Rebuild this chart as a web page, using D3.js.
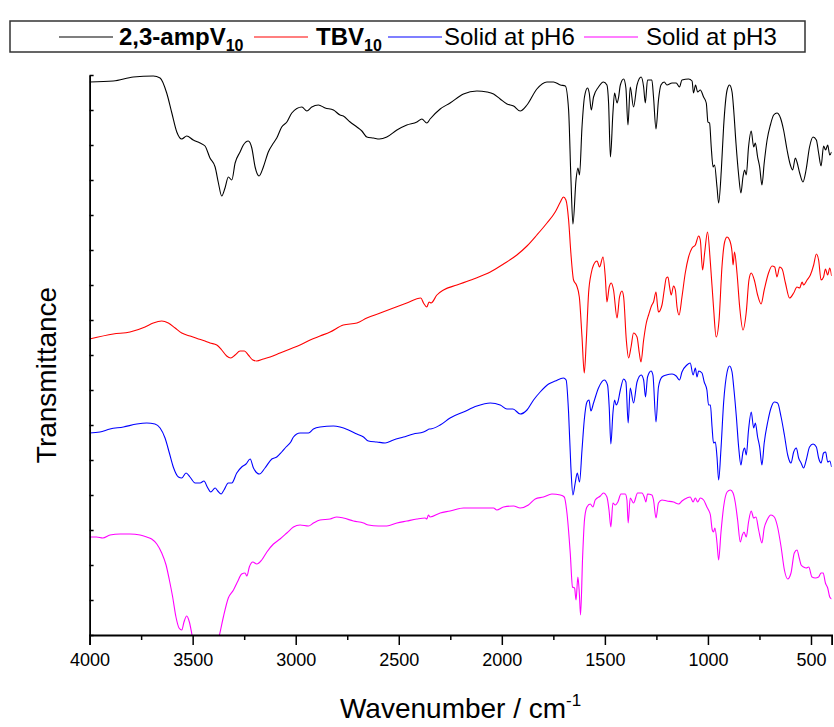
<!DOCTYPE html>
<html lang="en">
<head>
<meta charset="UTF-8">
<title>IR spectra</title>
<script src="https://d3js.org/d3.v7.min.js"></script>
<style>
  body { margin: 0; background: #fff; font-family: "Liberation Sans", Arial, sans-serif; }
  svg { display: block; }
</style>
</head>
<body>
<svg id="chart" width="834" height="727"></svg>
<script>
// wavenumber (cm-1), transmittance (offset, arbitrary units)
const ampV10 = [[4000,553],[3885,554],[3788,558],[3691,559],[3658,557],[3626,542],[3601,522],[3577,503],[3553,496],[3529,499],[3497,495],[3464,492],[3440,489],[3416,477],[3391,468],[3375,452],[3359,439],[3343,447],[3327,458],[3310,455],[3294,472],[3270,483],[3254,490],[3230,494],[3213,487],[3197,468],[3178,459],[3157,468],[3133,483],[3108,492],[3092,497],[3068,508],[3043,513],[3019,522],[2970,528],[2946,524],[2922,528],[2890,530],[2857,527],[2817,525],[2785,520],[2769,519],[2736,513],[2703,508],[2679,504],[2655,498],[2623,497],[2594,496],[2558,498],[2509,505],[2461,510],[2412,513],[2388,516],[2364,512],[2348,516],[2299,526],[2251,532],[2186,541],[2121,544],[2072,543],[2040,541],[2008,536],[1975,531],[1943,529],[1911,524],[1878,530],[1830,546],[1781,553],[1749,553],[1716,550],[1692,549],[1676,525],[1665,458],[1655,411],[1640,455],[1631,467],[1623,460],[1611,508],[1599,538],[1584,547],[1576,542],[1566,525],[1555,538],[1531,548],[1507,553],[1490,550],[1482,532],[1473,478],[1461,522],[1453,542],[1441,532],[1434,537],[1425,550],[1409,556],[1398,547],[1388,510],[1377,548],[1361,528],[1344,550],[1324,558],[1312,548],[1304,532],[1293,555],[1272,555],[1264,538],[1252,506],[1240,535],[1228,550],[1212,553],[1199,550],[1174,552],[1154,552],[1138,548],[1126,555],[1094,556],[1077,554],[1070,542],[1060,550],[1050,543],[1037,545],[1021,538],[1008,532],[1000,513],[992,512],[984,488],[975,468],[968,470],[956,448],[948,432],[935,465],[924,508],[907,545],[895,550],[883,543],[875,525],[864,492],[851,460],[840,442],[830,458],[822,465],[814,460],[803,488],[790,504],[778,488],[770,492],[759,478],[749,468],[738,450],[727,472],[713,495],[697,510],[681,520],[665,522],[648,517],[633,505],[616,485],[600,470],[589,465],[576,477],[568,473],[555,462],[539,453],[524,465],[507,488],[490,498],[474,495],[463,482],[451,469],[439,489],[429,485],[419,490],[409,480],[400,483]];

const tbv10 = [[4000,296],[3885,301],[3804,303],[3731,308],[3691,312],[3650,314],[3618,312],[3585,307],[3553,302],[3513,299],[3472,296],[3440,294],[3416,292],[3383,290],[3359,285],[3335,279],[3315,277],[3294,280],[3270,284],[3249,284],[3230,280],[3208,275],[3189,274],[3157,276],[3124,278],[3076,282],[3027,286],[2979,290],[2930,295],[2882,299],[2833,303],[2769,310],[2703,312],[2655,317],[2590,322],[2526,327],[2461,332],[2393,337],[2380,332],[2364,328],[2353,333],[2343,332],[2315,340],[2283,345],[2218,350],[2137,356],[2056,363],[1992,371],[1927,380],[1878,389],[1830,400],[1781,412],[1741,423],[1716,433],[1701,438],[1689,435],[1676,415],[1665,382],[1652,355],[1638,350],[1624,338],[1611,298],[1600,262],[1590,295],[1579,342],[1566,362],[1555,370],[1538,374],[1526,368],[1509,378],[1498,358],[1490,333],[1479,348],[1469,352],[1458,345],[1441,317],[1429,338],[1417,344],[1409,338],[1396,295],[1385,277],[1373,288],[1361,302],[1344,298],[1333,282],[1325,273],[1312,295],[1299,312],[1288,320],[1272,330],[1264,333],[1252,343],[1244,328],[1240,323],[1223,330],[1212,345],[1202,357],[1194,358],[1186,348],[1178,340],[1167,349],[1158,345],[1150,328],[1140,320],[1126,338],[1110,362],[1094,378],[1077,387],[1061,390],[1045,399],[1037,395],[1026,365],[1016,382],[1002,403],[988,372],[973,328],[960,298],[946,315],[932,368],[919,393],[907,398],[895,395],[883,383],[878,370],[871,383],[859,362],[846,328],[830,305],[814,323],[801,355],[790,362],[775,355],[759,340],[742,331],[727,345],[706,362],[689,369],[676,368],[665,358],[652,368],[640,366],[624,352],[604,337],[584,342],[568,348],[555,347],[543,353],[536,350],[519,355],[503,360],[487,370],[474,381],[463,375],[451,355],[439,358],[430,366],[419,360],[409,367],[400,359]];

const solidPH6 = [[4000,202],[3950,203],[3901,206],[3836,208],[3771,211],[3723,212],[3683,211],[3658,207],[3634,197],[3613,182],[3594,168],[3569,158],[3553,157],[3532,162],[3513,158],[3488,152],[3464,152],[3445,154],[3429,148],[3412,143],[3391,147],[3378,144],[3362,141],[3348,145],[3327,152],[3310,152],[3286,162],[3262,168],[3241,171],[3221,176],[3205,167],[3176,161],[3149,167],[3116,176],[3092,178],[3068,183],[3047,188],[3024,193],[3011,198],[2979,202],[2938,202],[2914,206],[2882,208],[2817,209],[2785,208],[2744,205],[2703,201],[2671,198],[2647,194],[2606,193],[2566,192],[2526,195],[2477,198],[2429,201],[2380,203],[2361,205],[2353,206],[2348,206],[2299,210],[2251,217],[2186,223],[2121,229],[2056,232],[2008,230],[1975,226],[1946,226],[1911,221],[1878,225],[1846,235],[1814,243],[1773,251],[1741,254],[1701,257],[1688,255],[1676,222],[1665,168],[1655,140],[1644,152],[1634,162],[1623,153],[1611,185],[1600,215],[1587,233],[1577,235],[1568,224],[1555,232],[1531,247],[1503,255],[1487,250],[1479,228],[1471,191],[1461,222],[1453,235],[1445,230],[1437,233],[1425,245],[1409,256],[1398,253],[1387,212],[1377,247],[1361,232],[1344,253],[1324,260],[1312,255],[1303,238],[1293,258],[1276,264],[1267,260],[1252,213],[1240,248],[1223,258],[1202,260],[1174,261],[1154,259],[1138,255],[1126,263],[1102,270],[1086,272],[1072,260],[1061,267],[1053,258],[1045,264],[1029,262],[1018,253],[1005,245],[997,230],[988,230],[980,208],[973,192],[964,193],[956,178],[948,155],[937,185],[924,232],[907,263],[895,269],[883,263],[875,248],[862,218],[851,188],[840,170],[830,183],[822,187],[814,180],[803,205],[790,223],[778,207],[770,212],[759,198],[749,188],[738,170],[727,192],[710,213],[694,227],[678,233],[662,232],[645,218],[629,200],[613,180],[597,172],[584,183],[571,187],[560,177],[548,172],[536,167],[523,175],[507,188],[490,191],[474,188],[463,177],[451,172],[439,182],[429,183],[419,173],[409,174],[400,168]];

const solidPH3 = [[4000,98],[3966,98],[3936,97],[3901,100],[3852,101],[3804,101],[3755,100],[3723,98],[3699,96],[3674,91],[3650,82],[3629,70],[3613,55],[3597,38],[3581,18],[3566,7],[3553,5],[3542,13],[3529,19],[3516,13],[3503,0],[3479,-25],[3445,-3],[3411,-25],[3370,0],[3351,18],[3327,37],[3302,45],[3283,53],[3262,61],[3246,62],[3237,59],[3225,68],[3208,73],[3189,71],[3165,75],[3140,83],[3108,91],[3076,96],[3043,102],[3011,108],[2979,110],[2938,109],[2914,112],[2882,115],[2833,116],[2801,118],[2769,117],[2720,114],[2671,112],[2647,110],[2599,109],[2558,109],[2509,112],[2461,114],[2412,116],[2372,117],[2364,116],[2356,120],[2348,118],[2299,122],[2251,124],[2186,127],[2105,127],[2040,127],[2024,125],[1992,128],[1943,129],[1911,127],[1871,130],[1838,136],[1798,138],[1757,141],[1716,140],[1697,138],[1684,122],[1668,82],[1657,48],[1647,47],[1640,35],[1631,58],[1624,42],[1618,20],[1608,78],[1599,115],[1587,128],[1571,131],[1558,128],[1547,135],[1522,139],[1507,142],[1490,138],[1480,125],[1471,108],[1461,132],[1450,130],[1437,133],[1422,141],[1401,141],[1393,135],[1387,112],[1377,137],[1361,132],[1341,142],[1320,142],[1309,138],[1301,133],[1293,141],[1272,140],[1264,135],[1252,117],[1240,132],[1223,135],[1199,134],[1167,133],[1142,131],[1126,134],[1102,137],[1086,138],[1072,133],[1061,137],[1050,133],[1037,137],[1021,135],[1005,128],[997,125],[988,120],[979,105],[973,103],[966,107],[956,92],[948,75],[937,102],[924,128],[907,143],[891,145],[878,142],[867,132],[856,115],[843,93],[833,100],[825,103],[814,98],[803,113],[790,124],[778,117],[767,118],[754,105],[738,92],[727,107],[713,115],[694,120],[678,118],[662,108],[645,88],[629,65],[613,56],[597,62],[581,82],[568,85],[557,77],[548,70],[536,68],[523,67],[511,68],[495,58],[479,57],[463,58],[451,62],[441,62],[430,52],[419,47],[409,38],[400,36]];

const seriesNames = ["2,3-ampV", "TBV", "Solid at pH6", "Solid at pH3"];
const seriesSubs = ["10", "10", "", ""];
const seriesColors = ["#000000", "#ff0000", "#0000ff", "#ff00ff"];
const seriesData = [ampV10, tbv10, solidPH6, solidPH3];

const majorTicks = [4000, 3500, 3000, 2500, 2000, 1500, 1000, 500];
const minorTicks = [3750, 3250, 2750, 2250, 1750, 1250, 750];
const yTicks = d3.range(0, 561, 35);

const svg = d3.select("#chart");
const plotLeft = 89.6, plotRight = 831.6, plotTop = 75, plotBottom = 635;

const x = d3.scaleLinear().domain([4000, 400]).range([plotLeft, plotRight]);
const y = d3.scaleLinear().domain([0, 560]).range([plotBottom, plotTop]);

svg.append("defs").append("clipPath").attr("id", "clip")
  .append("rect")
  .attr("x", plotLeft).attr("y", 40)
  .attr("width", plotRight - plotLeft).attr("height", plotBottom - 40);

const line = d3.line()
  .x(d => x(d[0]))
  .y(d => y(d[1]))
  .curve(d3.curveMonotoneX);

const plot = svg.append("g").attr("clip-path", "url(#clip)");
seriesData.forEach((data, i) => {
  plot.append("path")
    .datum(data)
    .attr("fill", "none")
    .attr("stroke", seriesColors[i])
    .attr("stroke-width", 1.1)
    .attr("stroke-linejoin", "round")
    .attr("d", line);
});

// x axis
const xAxis = svg.append("g")
  .attr("transform", `translate(0,${plotBottom})`)
  .call(d3.axisBottom(x).tickValues(majorTicks).tickSize(10).tickPadding(8).tickFormat(d3.format("d")));
xAxis.append("g")
  .call(d3.axisBottom(x).tickValues(minorTicks).tickSize(5).tickFormat(""))
  .select(".domain").remove();
xAxis.selectAll(".domain").attr("stroke-width", 1.8);
xAxis.selectAll(".tick line").attr("stroke-width", 1.5);
xAxis.selectAll("text")
  .attr("font-family", "'Liberation Sans', Arial, sans-serif")
  .attr("font-size", 18)
  .attr("fill", "#000");

// y axis (no labels)
const yAxis = svg.append("g")
  .attr("transform", `translate(${plotLeft},0)`)
  .call(d3.axisLeft(y).tickValues(yTicks).tickSize(-4).tickSizeOuter(0).tickFormat(""));
yAxis.selectAll(".domain").attr("stroke-width", 1.8);
yAxis.selectAll(".tick line").attr("stroke-width", 1.5);

// axis titles
const xTitle = svg.append("text")
  .attr("x", (plotLeft + plotRight) / 2)
  .attr("y", 718)
  .attr("text-anchor", "middle")
  .attr("font-size", 28)
  .attr("fill", "#000");
xTitle.append("tspan").text("Wavenumber / cm");
xTitle.append("tspan").attr("font-size", 17).attr("dy", -12).text("-1");

svg.append("text")
  .attr("transform", "translate(56,375) rotate(-90)")
  .attr("text-anchor", "middle")
  .attr("font-size", 28)
  .attr("fill", "#000")
  .text("Transmittance");

// legend
const legend = svg.append("g");
legend.append("rect")
  .attr("x", 10).attr("y", 21)
  .attr("width", 795).attr("height", 31)
  .attr("fill", "#fff")
  .attr("stroke", "#333")
  .attr("stroke-width", 1.5);

const legendLineX = [59, 254, 388, 584];
const legendTextX = [119, 316, 444, 646];
seriesNames.forEach((name, i) => {
  legend.append("line")
    .attr("x1", legendLineX[i]).attr("x2", legendLineX[i] + 54)
    .attr("y1", 37).attr("y2", 37)
    .attr("stroke", seriesColors[i])
    .attr("stroke-width", 1.2);
  const t = legend.append("text")
    .attr("x", legendTextX[i])
    .attr("y", 45)
    .attr("font-size", 24)
    .attr("font-weight", seriesSubs[i] ? "bold" : "normal")
    .attr("fill", "#000");
  t.append("tspan").text(name);
  if (seriesSubs[i]) {
    t.append("tspan").attr("font-size", 16).attr("dy", 6).text(seriesSubs[i]);
  }
});
</script>
</body>
</html>
